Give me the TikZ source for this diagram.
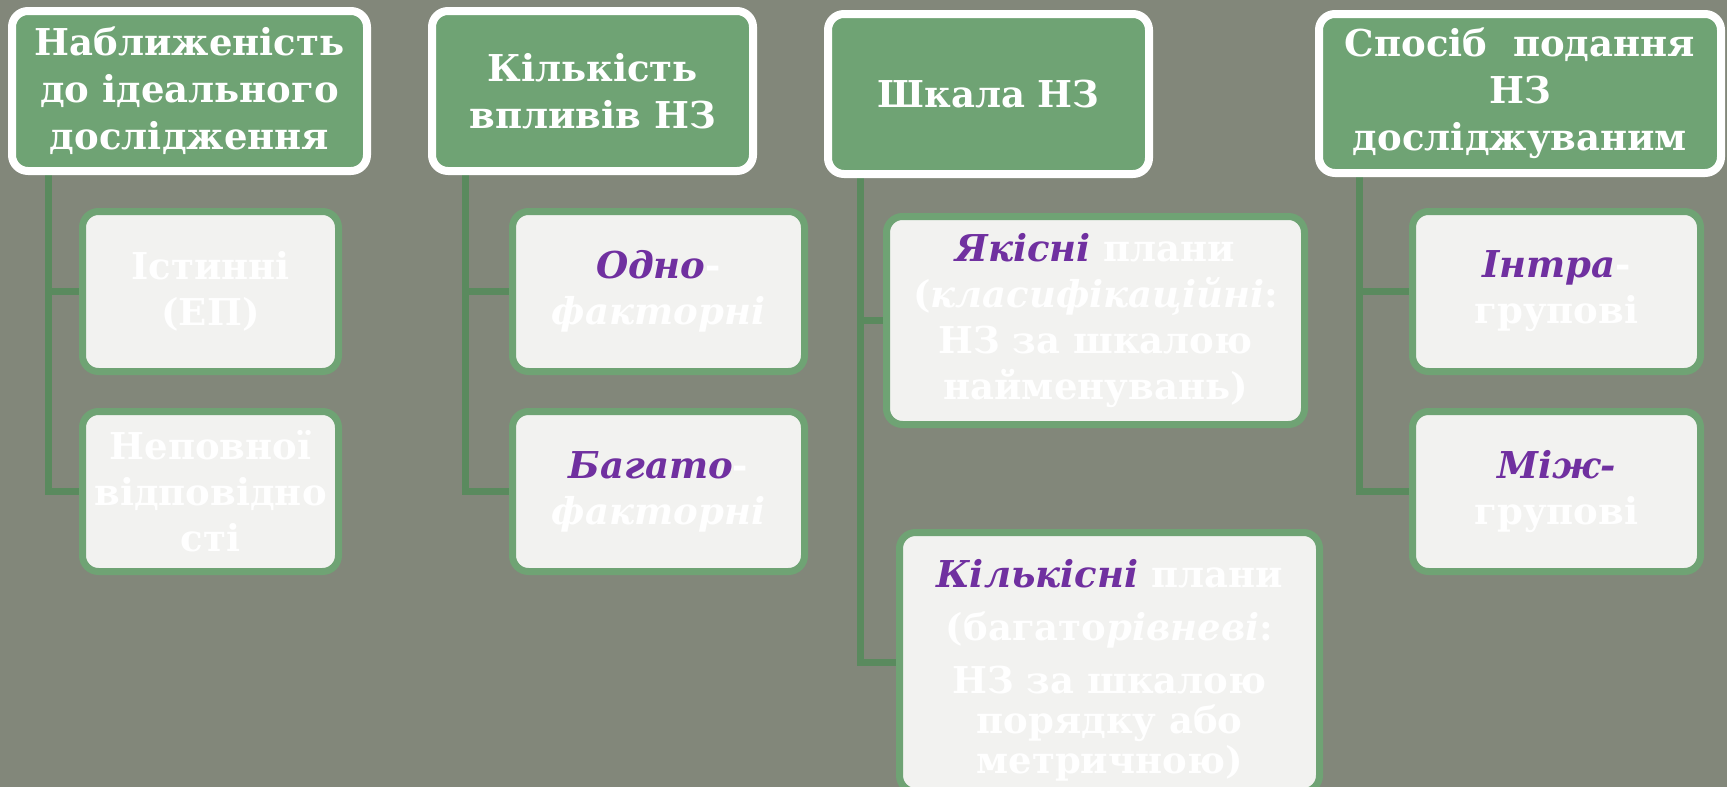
\documentclass[tikz,border=0pt]{standalone}
\usepackage{fontspec}
\setmainfont{DejaVu Serif}
\definecolor{bg}{HTML}{82877A}
\definecolor{hgreen}{HTML}{6FA374}
\definecolor{cgreen}{HTML}{5A8A5E}
\definecolor{leaffill}{HTML}{F2F2F0}
\definecolor{purp}{HTML}{7030A0}
\newcommand{\pu}[1]{{\color{purp}\itshape #1}}
\pgfdeclarelayer{connlayer}
\pgfsetlayers{connlayer,main}
\tikzset{
  head/.style={draw=white, line width=8pt, fill=hgreen, rounded corners=16pt, text=white,
    align=center, inner sep=0pt, font=\bfseries\fontsize{37}{47}\selectfont},
  leaf/.style={draw=hgreen, line width=7pt, fill=leaffill, rounded corners=16pt, text=white,
    align=center, inner sep=0pt, font=\bfseries\fontsize{37}{46}\selectfont},
  conn/.style={draw=cgreen, line width=7pt}
}
\begin{document}
\begin{tikzpicture}[x=1pt,y=-1pt]
\useasboundingbox (0,0) rectangle (1727,787);
\clip (0,0) rectangle (1727,787);
% header nodes
\node[head, minimum width=355pt, minimum height=160pt] (h1) at (189.5,91) {Наближеність\\до ідеального\\дослідження};
\node[head, minimum width=321pt, minimum height=160pt] (h2) at (592.5,91) {Кількість\\впливів НЗ};
\node[head, minimum width=321pt, minimum height=160pt] (h3) at (988.5,94) {Шкала НЗ};
\node[head, minimum width=402pt, minimum height=159pt] (h4) at (1520,93.5) {Спосіб\ \ подання\\НЗ\\досліджуваним};
% trunk tops
\coordinate (t1) at (48,175);
\coordinate (t2) at (465,175);
\coordinate (t3) at (860,178);
\coordinate (t4) at (1359,177);
% leaves
\node[leaf, minimum width=256pt, minimum height=160pt] (c1a) at (210.5,291.5) {Істинні\\(ЕП)};
\node[leaf, minimum width=256pt, minimum height=160pt] (c1b) at (210.5,491.5) {Неповної\\відповідно\\сті};
\node[leaf, minimum width=292pt, minimum height=160pt] (c2a) at (658.5,291.5) {\pu{Одно}-\\\textit{факторні}};
\node[leaf, minimum width=292pt, minimum height=160pt] (c2b) at (658.5,491.5) {\pu{Багато}-\\\textit{факторні}};
\node[leaf, minimum width=418pt, minimum height=208pt] (c3a) at (1095.5,320.5) {\pu{Якісні} плани\\(\textit{класифікаційні}:\\НЗ за шкалою\\найменувань)};
\node[leaf, minimum width=420pt, minimum height=259pt] (c3b) at (1109.5,662) {\rule{0pt}{44pt}\pu{Кількісні} плани\\[7pt](багато\textit{рівневі}:\\[7pt]НЗ за шкалою\\[-6pt]порядку або\\[-6pt]метричною)};
\node[leaf, minimum width=288pt, minimum height=160pt] (c4a) at (1556.5,291.5) {\pu{Інтра}-\\групові};
\node[leaf, minimum width=288pt, minimum height=160pt] (c4b) at (1556.5,491.5) {\pu{Між-}\\групові};
% connectors (behind leaves)
\begin{pgfonlayer}{connlayer}
\fill[bg] (0,0) rectangle (1727,787);
\draw[conn] (t1) |- (c1b.west);
\draw[conn] (t1 |- c1a.west) -- (c1a.west);
\draw[conn] (t2) |- (c2b.west);
\draw[conn] (t2 |- c2a.west) -- (c2a.west);
\draw[conn] (t3) |- (c3b.west);
\draw[conn] (t3 |- c3a.west) -- (c3a.west);
\draw[conn] (t4) |- (c4b.west);
\draw[conn] (t4 |- c4a.west) -- (c4a.west);
\end{pgfonlayer}
\end{tikzpicture}
\end{document}
